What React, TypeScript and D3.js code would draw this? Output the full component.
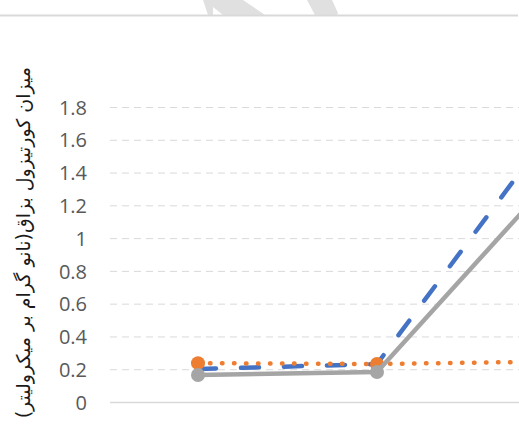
import React from "react";
import * as d3 from "d3";

// chart values
const categories = ["1", "2", "3"];
const blueValues = [0.204, 0.235, 1.7];
const orangeValues = [0.24, 0.235, 0.25];
const grayValues = [0.168, 0.186, 1.39];
const yTicks = [0, 0.2, 0.4, 0.6, 0.8, 1, 1.2, 1.4, 1.6, 1.8];
const yTitle = "میزان کورتیزول بزاق(نانو گرام بر میکرولیتر)";

const W = 519;
const H = 425;

const App = () => {
  const x = d3.scaleBand().domain(categories).range([108.5, 645.5]);
  const y = d3.scaleLinear().domain([0, 1.8]).range([402.5, 107.5]);
  const cx = (i: number) => (x(categories[i]) as number) + x.bandwidth() / 2;

  const line = d3
    .line<number>()
    .x((d, i) => cx(i))
    .y(d => y(d));

  const series = [
    { name: "blue", values: blueValues, color: "#4472c4", dash: "18 25", marker: false },
    { name: "orange", values: orangeValues, color: "#ed7d31", dash: "0.5 11.5", marker: true },
    { name: "gray", values: grayValues, color: "#a5a5a5", dash: null, marker: true },
  ];

  return (
    <svg
      width={W}
      height={H}
      style={{ position: "absolute", left: 0, top: 0, overflow: "hidden", background: "#fff" }}
    >
      {/* watermark fragments + top frame line */}
      <g fill="#e0e0e0">
        <polygon points="203,0 243,0 265,15 223,15 213,7 213,15 208,15" />
        <polygon points="307,0 332,0 338,13 337,15 315,15" />
      </g>
      <line x1={0} x2={518} y1={15.5} y2={15.5} stroke="#d9d9d9" strokeWidth={2} />

      {/* grid */}
      {yTicks.map(t =>
        t === 0 ? (
          <line key={t} x1={110} x2={W} y1={y(t)} y2={y(t)} stroke="#d9d9d9" strokeWidth={1.5} />
        ) : (
          <line
            key={t}
            x1={110}
            x2={W}
            y1={y(t)}
            y2={y(t)}
            stroke="#d9d9d9"
            strokeWidth={1}
            strokeDasharray="7 5"
          />
        )
      )}

      {/* tick labels */}
      {yTicks.map(t => (
        <text
          key={t}
          x={87}
          y={y(t)}
          dy="0.36em"
          textAnchor="end"
          fontFamily="'Open Sans', sans-serif"
          fontSize={20}
          fill="#595959"
        >
          {d3.format("")(t)}
        </text>
      ))}

      {/* axis title */}
      <text
        transform="translate(30,67) rotate(-90)"
        direction="rtl"
        textAnchor="start"
        fontFamily="'DejaVu Sans', sans-serif"
        fontSize={19}
        fill="#1a1a1a"
      >
        {yTitle}
      </text>

      {/* series */}
      {series.map(s => (
        <g key={s.name}>
          <path
            d={line(s.values) as string}
            fill="none"
            stroke={s.color}
            strokeWidth={4.5}
            strokeLinecap="round"
            strokeLinejoin="round"
            strokeDasharray={s.dash ?? undefined}
          />
          {s.marker &&
            s.values.map((v, i) => (
              <circle key={i} cx={cx(i)} cy={y(v)} r={7} fill={s.color} />
            ))}
        </g>
      ))}
    </svg>
  );
};

export default App;
